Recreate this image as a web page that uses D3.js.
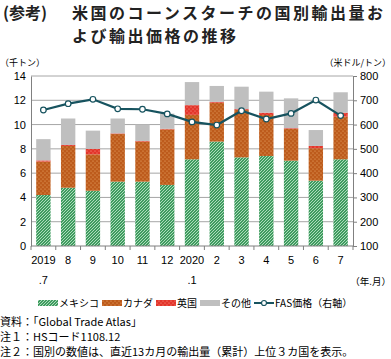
<!DOCTYPE html>
<html><head><meta charset="utf-8">
<script src="https://cdn.jsdelivr.net/npm/d3@7/dist/d3.min.js"></script>
<style>
body{margin:0;background:#fff;}
svg{display:block;font-family:"Noto Sans CJK JP","Noto Sans",sans-serif;}
</style></head>
<body><svg id="c" width="391" height="359"></svg>
<script>
const months = ["2019\n.7","8","9","10","11","12","2020\n.1","2","3","4","5","6","7"];
const mexico = [4.2,4.8,4.55,5.3,5.3,5.03,7.14,8.6,7.3,7.41,7.03,5.38,7.14];
const canada = [2.75,3.44,3.0,3.92,3.3,4.57,3.66,3.2,3.9,3.38,2.61,2.67,3.51];
const uk     = [0.1,0.08,0.45,0.05,0.05,0.05,0.8,0.07,0.07,0.19,0.06,0.19,0.33];
const other  = [1.75,2.18,1.5,1.23,1.35,1.25,1.9,1.31,1.85,1.73,2.46,1.31,1.68];
const price  = [660,686,704,665,663,644,611,598,657,623,646,701,637];
const leftTicks = [0,2,4,6,8,10,12,14];
const rightTicks = [100,200,300,400,500,600,700,800];
const seriesNames = ["メキシコ","カナダ","英国","その他"];

const svg = d3.select("#c");
const defs = svg.append("defs");
const pm = defs.append("pattern").attr("id","pMex").attr("patternUnits","userSpaceOnUse").attr("width",3).attr("height",3);
pm.append("rect").attr("width",3).attr("height",3).attr("fill","#3f9b5f");
pm.append("path").attr("d","M0,3L3,0M-1,1L1,-1M2,4L4,2").attr("stroke","#b9e3c6").attr("stroke-width",0.9);
const pc = defs.append("pattern").attr("id","pCan").attr("patternUnits","userSpaceOnUse").attr("width",4).attr("height",4);
pc.append("rect").attr("width",4).attr("height",4).attr("fill","#bd5b1c");
pc.append("circle").attr("cx",1).attr("cy",1).attr("r",0.6).attr("fill","#f0b070");
pc.append("circle").attr("cx",3).attr("cy",3).attr("r",0.6).attr("fill","#f0b070");
const pu = defs.append("pattern").attr("id","pUK").attr("patternUnits","userSpaceOnUse").attr("width",4).attr("height",4);
pu.append("rect").attr("width",4).attr("height",4).attr("fill","#e3352b");
pu.append("circle").attr("cx",1).attr("cy",1).attr("r",0.6).attr("fill","#f7a090");
pu.append("circle").attr("cx",3).attr("cy",3).attr("r",0.6).attr("fill","#f7a090");
const fills = ["url(#pMex)","url(#pCan)","url(#pUK)","#bfbfbf"];

const L = 31, R = 353, T = 76, B = 246;
const x = d3.scaleBand().domain(d3.range(months.length)).range([L,R]).paddingInner(0.42).paddingOuter(0.21);
const yL = d3.scaleLinear().domain([0,14]).range([B,T]);
const yR = d3.scaleLinear().domain([100,800]).range([B,T]);

svg.append("g").selectAll("line").data(leftTicks.slice(1)).join("line")
  .attr("x1",L).attr("x2",R).attr("y1",d=>yL(d)).attr("y2",d=>yL(d))
  .attr("stroke","#a6a6a6").attr("stroke-width",1);

const data = months.map((m,i)=>({i, mexico:mexico[i], canada:canada[i], uk:uk[i], other:other[i]}));
const stack = d3.stack().keys(["mexico","canada","uk","other"])(data);
svg.append("g").selectAll("g").data(stack).join("g")
  .attr("fill",(d,k)=>fills[k])
  .selectAll("rect").data(d=>d).join("rect")
  .attr("x",d=>x(d.data.i)).attr("width",x.bandwidth())
  .attr("y",d=>yL(d[1])).attr("height",d=>yL(d[0])-yL(d[1]));

const axL = svg.append("g").attr("transform",`translate(${L},0)`)
  .call(d3.axisLeft(yL).tickValues(leftTicks).tickSize(0).tickPadding(5));
axL.select(".domain").attr("stroke","#808080");
axL.selectAll("text").attr("font-size",11).attr("font-family","Arial, Liberation Sans, sans-serif").attr("fill","#000");
const axR = svg.append("g").attr("transform",`translate(${R},0)`)
  .call(d3.axisRight(yR).tickValues(rightTicks).tickSize(4).tickPadding(3));
axR.select(".domain").attr("stroke","#808080");
axR.selectAll("line").attr("stroke","#808080");
axR.selectAll("text").attr("font-size",11).attr("font-family","Arial, Liberation Sans, sans-serif").attr("fill","#000");

const xStep = x.step();
svg.append("line").attr("x1",L).attr("x2",R).attr("y1",B).attr("y2",B).attr("stroke","#808080");
svg.append("g").selectAll("line").data(d3.range(months.length+1)).join("line")
  .attr("x1",d=>L+d*xStep).attr("x2",d=>L+d*xStep).attr("y1",B).attr("y2",B+4).attr("stroke","#808080");
const xl = svg.append("g").selectAll("text").data(months).join("text")
  .attr("font-size",11).attr("font-family","Arial, Liberation Sans, sans-serif").attr("text-anchor","middle")
  .attr("x",(d,i)=>x(i)+x.bandwidth()/2);
xl.each(function(d){
  const parts = d.split("\n");
  const t = d3.select(this);
  parts.forEach((p,j)=>t.append("tspan").attr("x",t.attr("x")).attr("y",j===0?264:284).text(p));
});

const line = d3.line().x((d,i)=>x(i)+x.bandwidth()/2).y(d=>yR(d));
svg.append("path").datum(price).attr("d",line).attr("fill","none").attr("stroke","#17535f").attr("stroke-width",2.2);
svg.append("g").selectAll("circle").data(price).join("circle")
  .attr("cx",(d,i)=>x(i)+x.bandwidth()/2).attr("cy",d=>yR(d)).attr("r",2.8)
  .attr("fill","#fff").attr("stroke","#17535f").attr("stroke-width",1.2);

svg.append("text").attr("x",3).attr("y",19).attr("font-size",16).attr("font-weight","bold").attr("fill","#222").text("(参考)");
svg.append("text").attr("x",72).attr("y",19).attr("font-size",16).attr("font-weight","bold").attr("fill","#222").attr("letter-spacing",2.5).text("米国のコーンスターチの国別輸出量お");
svg.append("text").attr("x",72).attr("y",42).attr("font-size",16).attr("font-weight","bold").attr("fill","#222").attr("letter-spacing",2.5).text("よび輸出価格の推移");
svg.append("text").attr("x",0).attr("y",66).attr("font-size",9).text("（千トン）");
svg.append("text").attr("x",391).attr("y",66).attr("font-size",9).attr("text-anchor","end").text("（米ドル/トン）");
svg.append("text").attr("x",391).attr("y",285).attr("font-size",9.5).attr("text-anchor","end").text("（年.月）");

const lg = svg.append("g").attr("transform","translate(38,304)");
let lx = 0;
const legendItems = seriesNames.map((n,k)=>({n, fill:fills[k], type:"rect"})).concat([{n:"FAS価格（右軸）", type:"line"}]);
legendItems.forEach(it=>{
  if(it.type==="rect"){
    lg.append("rect").attr("x",lx).attr("y",-4).attr("width",20).attr("height",6).attr("fill",it.fill);
  } else {
    lg.append("line").attr("x1",lx).attr("x2",lx+20).attr("y1",-1).attr("y2",-1).attr("stroke","#17535f").attr("stroke-width",2);
    lg.append("circle").attr("cx",lx+10).attr("cy",-1).attr("r",2.5).attr("fill","#fff").attr("stroke","#17535f").attr("stroke-width",1.2);
  }
  const t = lg.append("text").attr("x",lx+21).attr("y",3).attr("font-size",10).text(it.n);
  lx += 21 + t.node().getComputedTextLength() + 3;
});

const notes = ["資料：「Global Trade Atlas」","注１：HSコード1108.12","注２：国別の数値は、直近13カ月の輸出量（累計）上位３カ国を表示。"];
svg.append("g").selectAll("text").data(notes).join("text")
  .attr("x",0).attr("y",(d,i)=>326+i*15).attr("font-size",11).text(d=>d);
</script></body></html>
